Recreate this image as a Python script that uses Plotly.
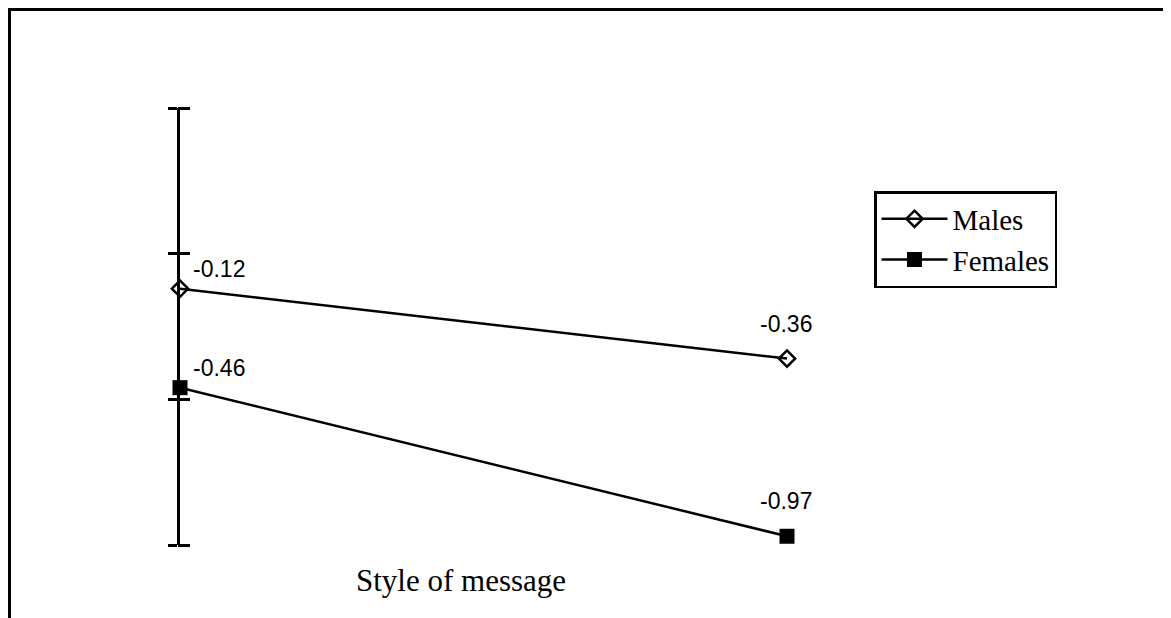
import plotly.graph_objects as go

categories = [0, 1]
males = [-0.12, -0.36]
females = [-0.46, -0.97]
series_names = ["Males", "Females"]
y_ticks = [-1.0, -0.5, 0.0, 0.5]
x_title = "Style of message"

# page body adds an 8px margin, so figure coordinates are screen - 8
W, H = 1163, 610
L, R, T, B = 172, 1092, 100, 537
pw, ph = R - L, B - T
x_unit = 779 - 172
x_range = [0, pw / x_unit]

def px_x(p):
    return (p - L) / pw

def px_y(p):
    return (B - p) / ph

fig = go.Figure()
fig.add_trace(go.Scatter(
    x=categories, y=males, name=series_names[0], mode="lines+markers",
    line=dict(color="black", width=2.5),
    marker=dict(symbol="diamond-open", size=12.5, color="black", line=dict(width=2.5, color="black")),
    cliponaxis=False,
))
fig.add_trace(go.Scatter(
    x=categories, y=females, name=series_names[1], mode="lines+markers",
    line=dict(color="black", width=2.5),
    marker=dict(symbol="square", size=15, color="black"),
    cliponaxis=False,
))
# invisible trace on a second y-axis (right-facing ticks) so crossing ticks render
fig.add_trace(go.Scatter(x=[None], y=[None], yaxis="y2", showlegend=False, hoverinfo="skip"))

lab_font = dict(family="Liberation Sans, Arial", size=23, color="black")
annotations = []
for series in (males, females):
    for i, (xv, yv) in enumerate(zip(categories, series)):
        if i == 0:
            annotations.append(dict(x=xv, y=yv, text=f"{yv:.2f}", showarrow=False,
                                    xanchor="left", yanchor="bottom", xshift=11, yshift=5,
                                    font=lab_font))
        else:
            annotations.append(dict(x=xv, y=yv, text=f"{yv:.2f}", showarrow=False,
                                    xanchor="center", yanchor="bottom", xshift=-1, yshift=20,
                                    font=lab_font))
annotations.append(dict(x=px_x(453), y=px_y(572), xref="paper", yref="paper", text=x_title,
                        showarrow=False, xanchor="center", yanchor="middle",
                        font=dict(family="Liberation Serif, Times New Roman", size=31, color="black")))

border = (f"M {px_x(1.5)},{px_y(640)} L {px_x(1.5)},{px_y(1.5)} "
          f"L {px_x(1158)},{px_y(1.5)} L {px_x(1158)},{px_y(640)}")

fig.update_layout(
    width=W, height=H,
    margin=dict(l=L, r=W - R, t=T, b=H - B, pad=0),
    paper_bgcolor="white", plot_bgcolor="white",
    xaxis=dict(range=x_range, visible=False, showgrid=False, zeroline=False),
    yaxis=dict(range=[-1, 0.5], showline=True, linecolor="black", linewidth=3,
               ticks="outside", ticklen=9, tickwidth=2.5, tickcolor="black",
               tickvals=y_ticks, showticklabels=False, showgrid=False, zeroline=False),
    yaxis2=dict(range=[-1, 0.5], overlaying="y", side="right", anchor="free", position=0,
                shift=-3, showline=False, ticks="outside", ticklen=12, tickwidth=2.5, tickcolor="black",
                tickvals=y_ticks, showticklabels=False, showgrid=False, zeroline=False),
    legend=dict(x=px_x(866), y=px_y(183), xanchor="left", yanchor="top",
                bordercolor="black", borderwidth=2.5, bgcolor="white",
                font=dict(family="Liberation Serif, Times New Roman", size=29, color="black"),
                itemwidth=66, tracegroupgap=0, entrywidthmode="pixels", entrywidth=145),
    annotations=annotations,
    shapes=[dict(type="path", path=border, xref="paper", yref="paper",
                 line=dict(color="black", width=3))],
    showlegend=True,
)

fig.write_html("out.html")
